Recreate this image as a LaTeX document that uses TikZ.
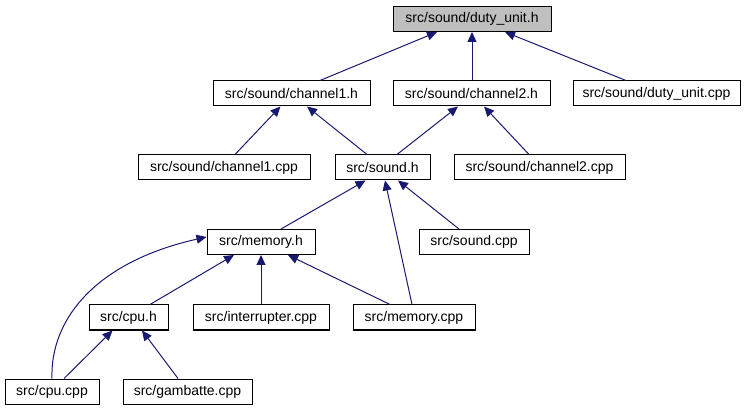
\documentclass[tikz,border=0pt]{standalone}
\usepackage{fontspec}
\setmainfont{Liberation Sans}
\usetikzlibrary{arrows.meta}
\definecolor{edgecol}{HTML}{191970}
\definecolor{topfill}{HTML}{BFBFBF}
\begin{document}
\begin{tikzpicture}[x=1pt,y=-1pt,
  box/.style={draw=black,line width=1pt,rectangle,inner sep=0pt,minimum height=25pt,font=\fontsize{14}{16}\selectfont,text=black},
  edge/.style={draw=edgecol,line width=1pt,-{Triangle[length=10pt,width=9pt]},color=edgecol}]
\useasboundingbox (0,0) rectangle (749,411);
\node[box,fill=topfill,minimum width=158pt] (du) at (472,19) {src/sound/duty\_unit.h};
\node[box,minimum width=157pt] (ch1h) at (291.5,93.5) {src/sound/channel1.h};
\node[box,minimum width=157pt] (ch2h) at (471.5,93.5) {src/sound/channel2.h};
\node[box,minimum width=167pt] (ducpp) at (656.5,93.5) {src/sound/duty\_unit.cpp};
\node[box,minimum width=172pt] (ch1cpp) at (224,167.5) {src/sound/channel1.cpp};
\node[box,minimum width=95pt] (soundh) at (382.5,167.5) {src/sound.h};
\node[box,minimum width=171pt] (ch2cpp) at (539.5,167.5) {src/sound/channel2.cpp};
\node[box,minimum width=108pt] (memh) at (261,242) {src/memory.h};
\node[box,minimum width=110pt] (soundcpp) at (474,242) {src/sound.cpp};
\node[box,minimum width=79pt] (cpuh) at (128.5,317.5) {src/cpu.h};
\node[box,minimum width=136pt] (intcpp) at (261,317.5) {src/interrupter.cpp};
\node[box,minimum width=122pt] (memcpp) at (414,317.5) {src/memory.cpp};
\node[box,minimum width=94pt] (cpucpp) at (52,391.5) {src/cpu.cpp};
\node[box,minimum width=129pt] (gamb) at (187.5,391.5) {src/gambatte.cpp};

\draw[edge] ([xshift=28.5pt]ch1h.north) -- ([xshift=-35pt]du.south);
\draw[edge] ([xshift=0.5pt]ch2h.north) -- (du.south);
\draw[edge] ([xshift=-30.5pt]ducpp.north) -- ([xshift=33pt]du.south);
\draw[edge] ([xshift=11pt]ch1cpp.north) -- ([xshift=-11pt]ch1h.south);
\draw[edge] ([xshift=-15.5pt]soundh.north) -- ([xshift=15.5pt]ch1h.south);
\draw[edge] ([xshift=14.5pt]soundh.north) -- ([xshift=-13.5pt]ch2h.south);
\draw[edge] ([xshift=-10.5pt]ch2cpp.north) -- ([xshift=12.5pt]ch2h.south);
\draw[edge] ([xshift=20pt]memh.north) -- ([xshift=-17pt]soundh.south);
\draw[edge] ([xshift=-2pt]memcpp.north) -- ([xshift=2.5pt]soundh.south);
\draw[edge] ([xshift=-15pt]soundcpp.north) -- ([xshift=15.5pt]soundh.south);
\draw[edge] ([xshift=21.5pt]cpuh.north) -- ([xshift=-27pt]memh.south);
\draw[edge] (intcpp.north) -- (memh.south);
\draw[edge] ([xshift=-24pt]memcpp.north) -- ([xshift=27pt]memh.south);
\draw[edge] (cpucpp.north) .. controls (50,320) and (95,262) .. ([yshift=5pt]memh.west);
\draw[edge] ([xshift=12pt]cpucpp.north) -- ([xshift=-16pt]cpuh.south);
\draw[edge] ([xshift=-9.5pt]gamb.north) -- ([xshift=13.5pt]cpuh.south);
\end{tikzpicture}
\end{document}
